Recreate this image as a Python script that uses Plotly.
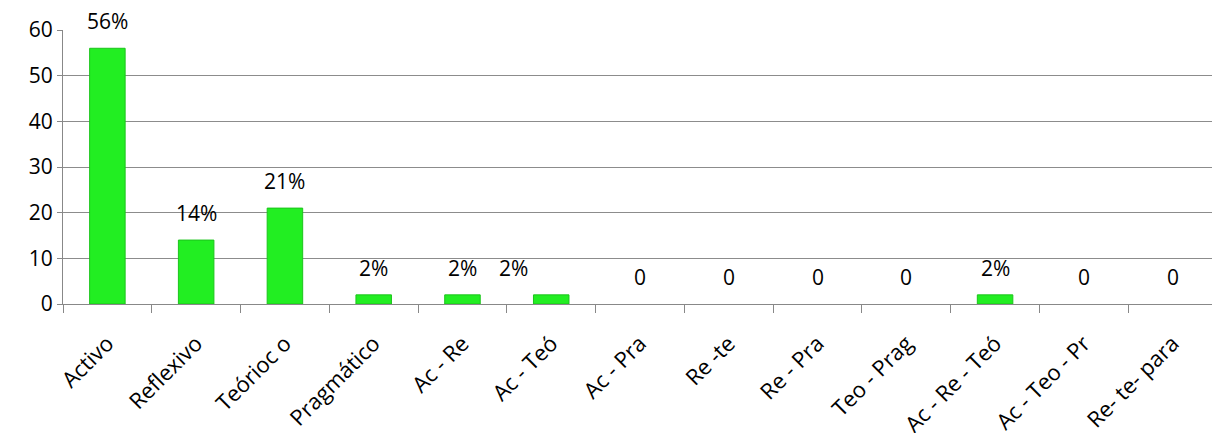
import plotly.graph_objects as go

categories = ["Activo", "Reflexivo", "Teórioc o", "Pragmático", "Ac - Re", "Ac - Teó",
              "Ac - Pra", "Re -te", "Re - Pra", "Teo - Prag", "Ac - Re - Teó",
              "Ac - Teo - Pr", "Re- te- para"]
values = [56, 14, 21, 2, 2, 2, 0, 0, 0, 0, 2, 0, 0]
labels = ["56%", "14%", "21%", "2%", "2%", "2%", "0", "0", "0", "0", "2%", "0", "0"]
label_xshift = [0, 0, 0, 0, 0, -38, 0, 0, 0, 0, 0, 0, 0]
y_ticks = [0, 10, 20, 30, 40, 50, 60]

font_family = "Open Sans, DejaVu Sans, sans-serif"

fig = go.Figure()
fig.add_trace(go.Bar(
    x=categories, y=values, width=0.4,
    marker=dict(color="#22EE22",
                line=dict(color="#1CC41C", width=[1 if v > 0 else 0 for v in values])),
    hoverinfo="x+y",
))

for c, v, t, dx in zip(categories, values, labels, label_xshift):
    fig.add_annotation(x=c, y=v, text=t, showarrow=False, yanchor="bottom",
                       yshift=11, xshift=dx,
                       font=dict(family=font_family, size=21, color="#000"))

fig.update_layout(
    width=1212, height=425,
    margin=dict(l=55, r=3, t=22, b=129, autoexpand=False),
    paper_bgcolor="white", plot_bgcolor="white",
    showlegend=False,
    bargap=0.6,
    font=dict(family=font_family, color="#000"),
)
fig.update_xaxes(
    type="category",
    tickangle=-45,
    automargin=False,
    tickfont=dict(family=font_family, size=22, color="#000"),
    showline=True, linecolor="#888", linewidth=1,
    ticks="outside", ticklen=8, tickcolor="#888", tickson="boundaries",
    ticklabelstandoff=17,
    showgrid=False,
)
fig.update_yaxes(
    range=[0, 60], tickvals=y_ticks,
    automargin=False,
    tickfont=dict(family=font_family, size=21, color="#000"),
    showline=True, linecolor="#888", linewidth=1,
    ticks="outside", ticklen=5, tickcolor="#888",
    showgrid=True, gridcolor="#8c8c8c", gridwidth=1,
    zeroline=False,
)

fig.write_html("out.html")
